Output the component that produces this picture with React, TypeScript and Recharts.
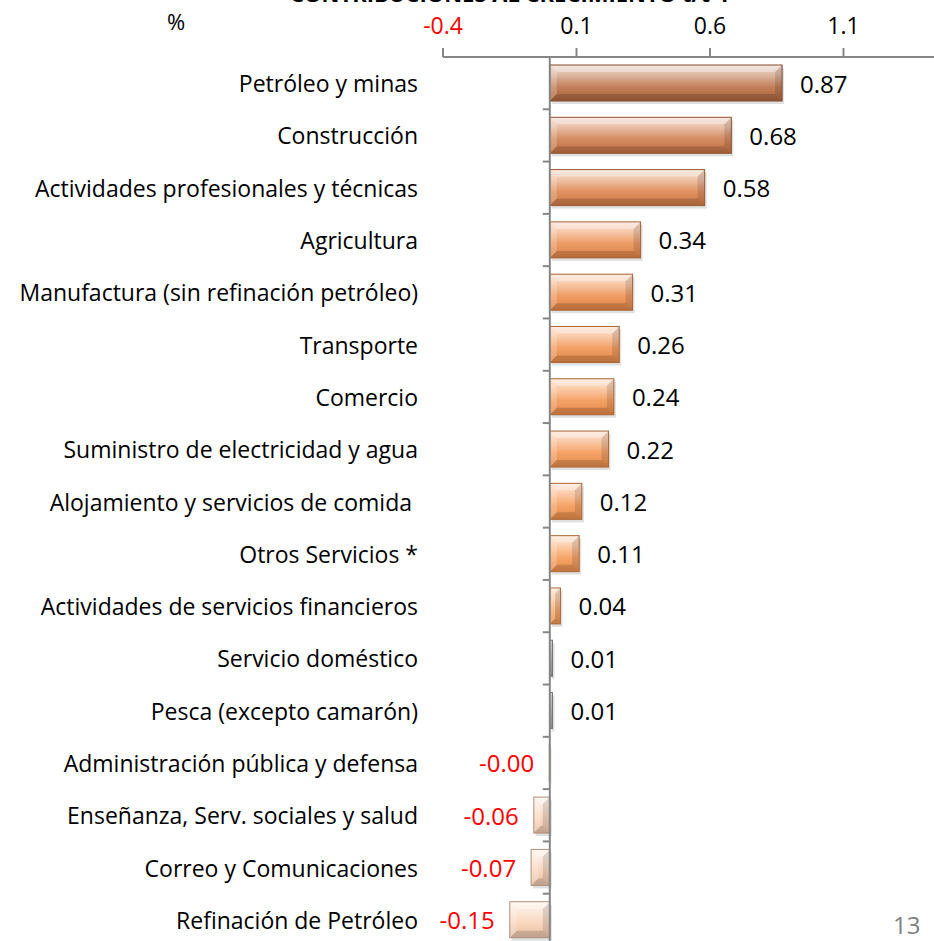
import React from "react";
import {
  BarChart,
  Bar,
  XAxis,
  YAxis,
  ReferenceLine,
  LabelList,
} from "recharts";

const sectors: string[] = [
  "Petróleo y minas",
  "Construcción",
  "Actividades profesionales y técnicas",
  "Agricultura",
  "Manufactura (sin refinación petróleo)",
  "Transporte",
  "Comercio",
  "Suministro de electricidad y agua",
  "Alojamiento y servicios de comida\u00a0",
  "Otros Servicios *",
  "Actividades de servicios financieros",
  "Servicio doméstico",
  "Pesca (excepto camarón)",
  "Administración pública y defensa",
  "Enseñanza, Serv. sociales y salud",
  "Correo y Comunicaciones",
  "Refinación de Petróleo",
];

const contributions: number[] = [
  0.87, 0.68, 0.58, 0.34, 0.31, 0.26, 0.24, 0.22, 0.12, 0.11, 0.04, 0.01, 0.01,
  -0.002, -0.06, -0.07, -0.15,
];

const xTicks: number[] = [-0.4, 0.1, 0.6, 1.1];

const barColors: string[] = [
  "#b8693e",
  "#cd7846",
  "#dc8048",
  "#ea8a4b",
  "#ee8c4a",
  "#f18f4b",
  "#f3914c",
  "#f4934d",
  "#f5954f",
  "#f69650",
  "#f59a55",
  "#a8a4a0",
  "#a8a4a0",
  "#f8cfb2",
  "#f8cfb2",
  "#f8cfb2",
  "#f8cfb2",
];

const data = sectors.map((name, i) => ({ name, value: contributions[i] }));

const FONT = "'Open Sans', 'Noto Sans', sans-serif";
const AXIS_GREY = "#868686";

const mix = (hex: string, target: number, t: number) => {
  const n = parseInt(hex.slice(1), 16);
  const c = [(n >> 16) & 255, (n >> 8) & 255, n & 255].map((v) =>
    Math.round(v + (target - v) * t)
  );
  return `rgb(${c[0]},${c[1]},${c[2]})`;
};

const BevelBar = (props: any) => {
  const { x, y, width, height, index } = props;
  const l = Math.min(x, x + width);
  const w = Math.abs(width);
  const r = l + w;
  const h = height;
  if (w <= 0 || h <= 0) return null;
  const base = barColors[index];
  const b = Math.min(7, w / 2, h / 2);
  const id = `grad-${index}`;
  return (
    <g>
      <defs>
        <linearGradient id={id} x1="0" y1="0" x2="0" y2="1">
          <stop offset="0%" stopColor={mix(base, 255, 0.75)} />
          <stop offset="25%" stopColor={mix(base, 255, 0.55)} />
          <stop offset="60%" stopColor={mix(base, 255, 0.15)} />
          <stop offset="100%" stopColor={mix(base, 0, 0.08)} />
        </linearGradient>
      </defs>
      <rect x={l + 2} y={y + 3} width={w} height={h} fill="rgba(0,0,0,0.12)" />
      <rect x={l} y={y} width={w} height={h} fill={`url(#${id})`} />
      <polygon
        points={`${l},${y} ${r},${y} ${r - b},${y + b} ${l + b},${y + b}`}
        fill="rgba(255,255,255,0.35)"
      />
      <polygon
        points={`${l},${y} ${l + b},${y + b} ${l + b},${y + h - b} ${l},${y + h}`}
        fill="rgba(255,255,255,0.2)"
      />
      <polygon
        points={`${r},${y} ${r - b},${y + b} ${r - b},${y + h - b} ${r},${y + h}`}
        fill="rgba(0,0,0,0.12)"
      />
      <polygon
        points={`${l},${y + h} ${l + b},${y + h - b} ${r - b},${y + h - b} ${r},${y + h}`}
        fill="rgba(0,0,0,0.15)"
      />
      <rect
        x={l}
        y={y}
        width={w}
        height={h}
        fill="none"
        stroke={mix(base, 0, 0.3)}
        strokeWidth={1}
      />
    </g>
  );
};

const ValueLabel = (props: any) => {
  const { x, y, width, height, value } = props;
  const l = Math.min(x, x + width);
  const r = Math.max(x, x + width);
  const neg = value < 0;
  return (
    <text
      x={neg ? l - 15 : r + 18}
      y={y + height / 2}
      textAnchor={neg ? "end" : "start"}
      dominantBaseline="central"
      fontFamily={FONT}
      fontSize={24}
      fill={neg ? "#ff0000" : "#000000"}
    >
      {value.toFixed(2)}
    </text>
  );
};

const SectorTick = (props: any) => {
  const { y, payload } = props;
  return (
    <text
      x={418}
      y={y}
      textAnchor="end"
      dominantBaseline="central"
      fontFamily={FONT}
      fontSize={23}
      fill="#000000"
      style={{ whiteSpace: "pre" }}
    >
      {payload.value}
    </text>
  );
};

const ValueTick = (props: any) => {
  const { x, y, payload } = props;
  return (
    <text
      x={x}
      y={y - 12}
      textAnchor="middle"
      fontFamily={FONT}
      fontSize={23}
      fill={payload.value < 0 ? "#ff0000" : "#000000"}
    >
      {payload.value.toFixed(1)}
    </text>
  );
};

const ZeroAxis = (props: any) => {
  const { x1, y1, y2 } = props;
  const band = (y2 - y1) / sectors.length;
  return (
    <g>
      <line x1={x1} y1={y1} x2={x1} y2={y2} stroke={AXIS_GREY} strokeWidth={2} />
      {sectors.slice(1).map((s, i) => (
        <line
          key={s}
          x1={x1 - 7}
          x2={x1}
          y1={y1 + band * (i + 1)}
          y2={y1 + band * (i + 1)}
          stroke={AXIS_GREY}
          strokeWidth={2}
        />
      ))}
    </g>
  );
};

export default function App() {
  return (
    <div
      style={{
        position: "absolute",
        left: 0,
        top: 0,
        width: 934,
        height: 941,
        overflow: "hidden",
        background: "#ffffff",
        fontFamily: FONT,
      }}
    >
      <div
        style={{
          position: "absolute",
          left: 290,
          top: -22,
          fontSize: 22,
          fontWeight: 700,
          color: "#000000",
          whiteSpace: "nowrap",
        }}
      >
        CONTRIBUCIONES AL CRECIMIENTO t/t-1
      </div>
      <div style={{ position: "absolute", left: 167, top: 6, fontSize: 22 }}>%</div>
      <div
        style={{
          position: "absolute",
          left: 893,
          top: 908,
          fontSize: 24,
          color: "#7f7f7f",
        }}
      >
        13
      </div>
      <BarChart
        width={977}
        height={946}
        data={data}
        layout="vertical"
        margin={{ top: 0, right: 0, left: 0, bottom: 0 }}
        style={{ position: "absolute", left: 0, top: 0 }}
      >
        <XAxis
          type="number"
          orientation="top"
          height={57}
          domain={[-0.4, 1.6]}
          ticks={xTicks}
          interval={0}
          axisLine={{ stroke: AXIS_GREY, strokeWidth: 2 }}
          tickLine={{ stroke: AXIS_GREY, strokeWidth: 2 }}
          tickSize={9}
          tick={<ValueTick />}
        />
        <YAxis
          type="category"
          dataKey="name"
          width={443}
          axisLine={false}
          tickLine={false}
          tick={<SectorTick />}
          interval={0}
        />
        <Bar dataKey="value" barSize={36} shape={<BevelBar />} isAnimationActive={false}>
          <LabelList dataKey="value" content={<ValueLabel />} />
        </Bar>
        <ReferenceLine x={0} shape={<ZeroAxis />} />
      </BarChart>
    </div>
  );
}
